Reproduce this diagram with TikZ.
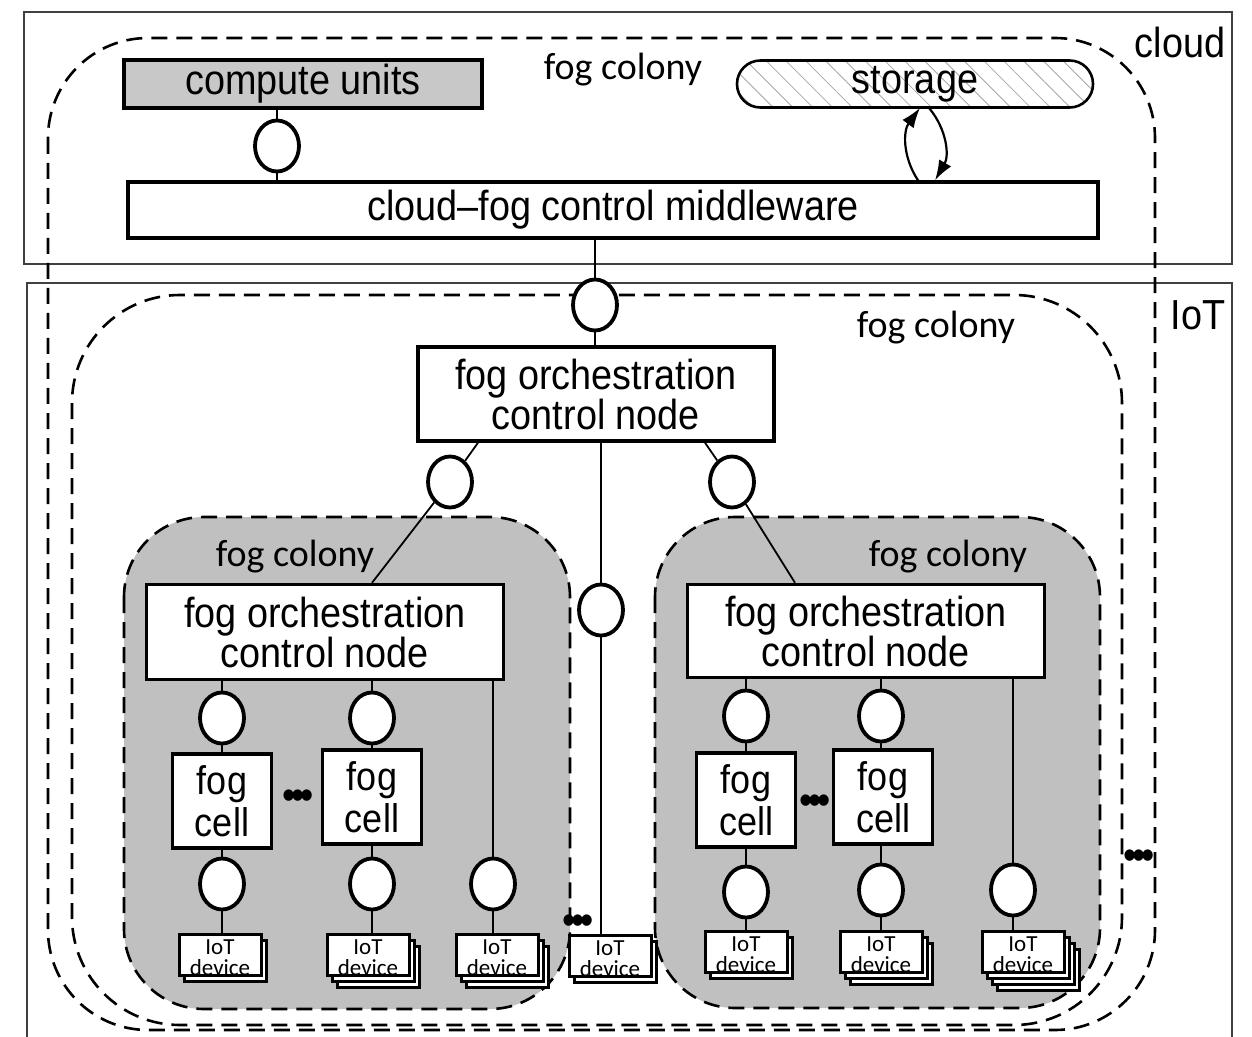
\documentclass[tikz,border=0pt]{standalone}
\usepackage{fontspec}
\setmainfont{Liberation Sans}[FakeStretch=0.9]
\newfontfamily\colonyfont{Carlito}
\usetikzlibrary{positioning, shapes.geometric, shadows, arrows.meta, patterns.meta}
\definecolor{colonygray}{RGB}{192,192,192}
\definecolor{unitgray}{RGB}{200,200,200}

\begin{document}
\begin{tikzpicture}[
    x=0.5pt, y=-0.5pt,% one unit = one pixel of the sketch
       frame/.style = {draw=black!75, line width=1pt},
      colony/.style = {draw, dashed, dash pattern=on 8pt off 4.5pt, line width=1.3pt},
         box/.style = {draw, line width=1.7pt, fill=white, inner sep=0pt, align=center,
                       font=\fontsize{21}{20}\selectfont},
        tray/.style = {draw, line width=1.3pt, inner sep=0pt,
                       font=\fontsize{21}{20}\selectfont},
        cell/.style = {box, minimum width=49.5pt, minimum height=47pt,
                       font=\fontsize{20}{21}\selectfont},
       iface/.style = {ellipse, draw, line width=1.9pt, fill=white, inner sep=0pt,
                       minimum width=22pt, minimum height=25.5pt},
      device/.style = {draw, line width=1.5pt, fill=white, inner sep=0pt, align=center,
                       minimum width=41pt, minimum height=20pt,
                       text height=20.5pt, text depth=0pt,
                       font=\colonyfont\fontsize{11.5}{10.5}\selectfont},
      stackA/.style = {copy shadow={shadow xshift=2.5pt, shadow yshift=-3pt,
                       draw=black, fill=white, line width=1.5pt}},
      stackB/.style = {copy shadow={shadow xshift=5pt, shadow yshift=-6pt,
                       draw=black, fill=white, line width=1.5pt}, stackA},
      stackC/.style = {copy shadow={shadow xshift=7.5pt, shadow yshift=-9pt,
                       draw=black, fill=white, line width=1.5pt}, stackB},
   colonylbl/.style = {inner sep=0pt, font=\colonyfont\fontsize{19}{19}\selectfont},
       layer/.style = {inner sep=0pt, font=\fontsize{21}{20}\selectfont},
        dots/.style = {inner sep=0pt, font=\fontsize{21}{21}\selectfont},
        link/.style = {line width=0.9pt}
    ]
    \useasboundingbox (0,0) rectangle (1252,1037);
    % layers and colonies
    \draw[frame] (24,12) rectangle (1232,264);
    \draw[frame] (27,1037) |- (1232,283) -- (1232,1037);
    \draw[colony, rounded corners=50pt] (48,38) rectangle (1155,1030);
    \draw[colony, rounded corners=54pt] (72,295) rectangle (1122,1025);
    \draw[colony, fill=colonygray, rounded corners=40pt] (124,517) rectangle (570,1009);
    \draw[colony, fill=colonygray, rounded corners=40pt] (655,517) rectangle (1100,1008);
    \node[layer] (cloudlbl) at (1180,42) {cloud};
    \node[layer] (iotlbl) at (1198,315) {IoT};
    \node[colonylbl] (topcol) at (623,70) {fog colony};
    \node[colonylbl] (iotcol) at (936,328) {fog colony};
    \node[colonylbl] (leftcol) at (295,557) {fog colony};
    \node[colonylbl] (rightcol) at (948,557) {fog colony};

    % cloud
    \node[box, fill=unitgray, minimum width=179pt, minimum height=24pt] (cu) at (303,84) {compute units};
    \node[tray, rounded corners=11.7pt, minimum width=178pt, minimum height=23.5pt,
          pattern={Lines[angle=-45, distance=7pt, line width=0.4pt]}, pattern color=gray!70] (st) at (915,84) {storage};
    \node[box, minimum width=485pt, minimum height=28pt] (mw) at (613,210) {cloud--fog control middleware};
    \node[iface] (c0) at (277,146) {};
    \node[iface] (c1) at (595,305) {};

    % IoT colony
    \node[box, minimum width=178pt, minimum height=47pt] (orch) at (596,394) {fog orchestration\\control node};
    \node[iface] (c2) at (450,482) {};
    \node[iface] (c3) at (732,482) {};
    \node[iface] (cm) at (601,610) {};
    \node[device, stackA] (im) at (610,956) {IoT\\device};
    \node[dots] (dm) at (578,925) {\textbullet\kern-2pt\textbullet\kern-2pt\textbullet};

    % left colony
    \node[box, minimum width=178.5pt, minimum height=47.5pt] (lo) at (325,632) {fog orchestration\\control node};
    \node[iface] (lc1) at (222,718) {};
    \node[iface] (lc2) at (372,718) {};
    \node[cell] (lf1) at (222,801) {fog\\cell};
    \node[cell] (lf2) at (372,797) {fog\\cell};
    \node[dots] (dl) at (298,800) {\textbullet\kern-2pt\textbullet\kern-2pt\textbullet};
    \node[iface] (ld1) at (222,884) {};
    \node[iface] (ld2) at (372,884) {};
    \node[iface] (ld3) at (493,884) {};
    \node[device, stackA] (li1) at (220,955) {IoT\\device};
    \node[device, stackB] (li2) at (368,955) {IoT\\device};
    \node[device, stackB] (li3) at (497,955) {IoT\\device};

    % right colony
    \node[box, minimum width=178.5pt, minimum height=46.5pt] (ro) at (866,631) {fog orchestration\\control node};
    \node[iface] (rc1) at (746,716) {};
    \node[iface] (rc2) at (881,716) {};
    \node[cell] (rf1) at (746,800) {fog\\cell};
    \node[cell] (rf2) at (883,797) {fog\\cell};
    \node[dots] (dr) at (815,805) {\textbullet\kern-2pt\textbullet\kern-2pt\textbullet};
    \node[iface] (rd1) at (746,892) {};
    \node[iface] (rd2) at (881,890) {};
    \node[iface] (rd3) at (1013,890) {};
    \node[device, stackA] (ri1) at (746,952) {IoT\\device};
    \node[device, stackB] (ri2) at (881,952) {IoT\\device};
    \node[device, stackC] (ri3) at (1023,952) {IoT\\device};
    \node[dots] (dout) at (1139,860) {\textbullet\kern-2pt\textbullet\kern-2pt\textbullet};

    % links
    \draw[link] (c0) -- (c0 |- cu.south);
    \draw[link] (c0) -- (c0 |- mw.north);
    \draw[link] (c1 |- mw.south) -- (c1);
    \draw[link] (c1) -- (c1 |- orch.north);
    \draw[link, line width=1.1pt, -{Latex[length=10pt, width=7pt]}] ([xshift=152.5pt]mw.north) to[bend left=35] ([xshift=2.5pt]st.south);
    \draw[link, line width=1.1pt, -{Latex[length=10pt, width=7pt]}] ([xshift=7pt]st.south) to[bend left=35] ([xshift=161pt]mw.north);
    \draw[link] ([xshift=-59pt]orch.south) -- (c2);
    \draw[link] (c2) -- ([xshift=23.5pt]lo.north);
    \draw[link] ([xshift=54.5pt]orch.south) -- (c3);
    \draw[link] (c3) -- ([xshift=-35.5pt]ro.north);
    \draw[link] (cm |- orch.south) -- (cm);
    \draw[link] (cm) -- (cm |- im.north);
    \foreach \p/\c/\f/\d/\i in {lo/lc1/lf1/ld1/li1, lo/lc2/lf2/ld2/li2,
                                ro/rc1/rf1/rd1/ri1, ro/rc2/rf2/rd2/ri2}{
        \draw[link] (\c |- \p.south) -- (\c);
        \draw[link] (\c) -- (\c |- \f.north);
        \draw[link] (\d |- \f.south) -- (\d);
        \draw[link] (\d) -- (\d |- \i.north);
    }
    \draw[link] (ld3 |- lo.south) -- (ld3);
    \draw[link] (ld3) -- (ld3 |- li3.north);
    \draw[link] (rd3 |- ro.south) -- (rd3);
    \draw[link] (rd3) -- (rd3 |- ri3.north);
\end{tikzpicture}
\end{document}
